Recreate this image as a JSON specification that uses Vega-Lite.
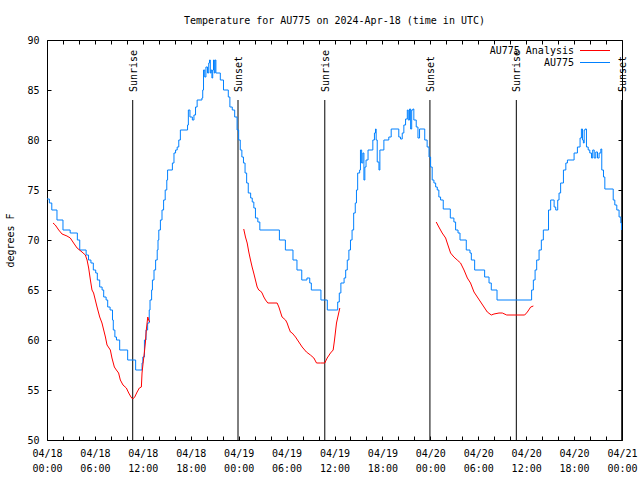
{
  "$schema": "https://vega.github.io/schema/vega-lite/v6.json",
  "width": 575,
  "height": 400,
  "autosize": "none",
  "padding": {"left": 47, "top": 40, "right": 18, "bottom": 40},
  "background": "white",
  "config": {
    "font": "DejaVu Sans Mono",
    "view": {"stroke": "black", "strokeWidth": 1},
    "axis": {"grid": false, "domain": false, "labelFont": "DejaVu Sans Mono", "labelFontSize": 10, "labelColor": "black", "tickColor": "black", "tickSize": -4, "titleFont": "DejaVu Sans Mono", "titleFontSize": 10, "titleFontWeight": "normal", "titleColor": "black"}
  },
  "title": {"text": "Temperature for AU775 on 2024-Apr-18 (time in UTC)", "font": "DejaVu Sans Mono", "fontSize": 10, "fontWeight": "normal", "color": "black", "anchor": "middle", "offset": 9},
  "datasets": {
    "sun": [
      {"t": "2024-04-18T10:44Z", "label": "Sunrise"},
      {"t": "2024-04-18T23:55Z", "label": "Sunset"},
      {"t": "2024-04-19T10:47Z", "label": "Sunrise"},
      {"t": "2024-04-19T23:57Z", "label": "Sunset"},
      {"t": "2024-04-20T10:46Z", "label": "Sunrise"},
      {"t": "2024-04-20T23:58Z", "label": "Sunset"}
    ],
    "temps": [
      {"t": "2024-04-18T00:00Z", "v": 74.1, "s": "AU775", "g": "b"},
      {"t": "2024-04-18T00:18Z", "v": 73.7, "s": "AU775", "g": "b"},
      {"t": "2024-04-18T00:36Z", "v": 73.0, "s": "AU775", "g": "b"},
      {"t": "2024-04-18T01:15Z", "v": 72.0, "s": "AU775", "g": "b"},
      {"t": "2024-04-18T02:00Z", "v": 71.0, "s": "AU775", "g": "b"},
      {"t": "2024-04-18T02:54Z", "v": 70.7, "s": "AU775", "g": "b"},
      {"t": "2024-04-18T03:48Z", "v": 70.0, "s": "AU775", "g": "b"},
      {"t": "2024-04-18T04:06Z", "v": 69.0, "s": "AU775", "g": "b"},
      {"t": "2024-04-18T04:54Z", "v": 68.5, "s": "AU775", "g": "b"},
      {"t": "2024-04-18T05:12Z", "v": 68.0, "s": "AU775", "g": "b"},
      {"t": "2024-04-18T05:30Z", "v": 67.7, "s": "AU775", "g": "b"},
      {"t": "2024-04-18T05:48Z", "v": 67.0, "s": "AU775", "g": "b"},
      {"t": "2024-04-18T06:06Z", "v": 66.7, "s": "AU775", "g": "b"},
      {"t": "2024-04-18T06:18Z", "v": 66.0, "s": "AU775", "g": "b"},
      {"t": "2024-04-18T06:36Z", "v": 65.3, "s": "AU775", "g": "b"},
      {"t": "2024-04-18T06:54Z", "v": 65.0, "s": "AU775", "g": "b"},
      {"t": "2024-04-18T07:06Z", "v": 64.3, "s": "AU775", "g": "b"},
      {"t": "2024-04-18T07:24Z", "v": 64.0, "s": "AU775", "g": "b"},
      {"t": "2024-04-18T07:36Z", "v": 63.3, "s": "AU775", "g": "b"},
      {"t": "2024-04-18T07:54Z", "v": 63.0, "s": "AU775", "g": "b"},
      {"t": "2024-04-18T08:12Z", "v": 62.0, "s": "AU775", "g": "b"},
      {"t": "2024-04-18T08:18Z", "v": 61.0, "s": "AU775", "g": "b"},
      {"t": "2024-04-18T08:30Z", "v": 60.3, "s": "AU775", "g": "b"},
      {"t": "2024-04-18T08:42Z", "v": 60.0, "s": "AU775", "g": "b"},
      {"t": "2024-04-18T09:06Z", "v": 59.0, "s": "AU775", "g": "b"},
      {"t": "2024-04-18T10:06Z", "v": 58.0, "s": "AU775", "g": "b"},
      {"t": "2024-04-18T11:06Z", "v": 57.0, "s": "AU775", "g": "b"},
      {"t": "2024-04-18T11:54Z", "v": 57.7, "s": "AU775", "g": "b"},
      {"t": "2024-04-18T12:00Z", "v": 58.3, "s": "AU775", "g": "b"},
      {"t": "2024-04-18T12:12Z", "v": 60.0, "s": "AU775", "g": "b"},
      {"t": "2024-04-18T12:24Z", "v": 61.0, "s": "AU775", "g": "b"},
      {"t": "2024-04-18T12:36Z", "v": 61.7, "s": "AU775", "g": "b"},
      {"t": "2024-04-18T12:48Z", "v": 63.0, "s": "AU775", "g": "b"},
      {"t": "2024-04-18T12:54Z", "v": 64.0, "s": "AU775", "g": "b"},
      {"t": "2024-04-18T13:06Z", "v": 65.0, "s": "AU775", "g": "b"},
      {"t": "2024-04-18T13:12Z", "v": 66.0, "s": "AU775", "g": "b"},
      {"t": "2024-04-18T13:24Z", "v": 67.0, "s": "AU775", "g": "b"},
      {"t": "2024-04-18T13:36Z", "v": 68.0, "s": "AU775", "g": "b"},
      {"t": "2024-04-18T13:48Z", "v": 69.0, "s": "AU775", "g": "b"},
      {"t": "2024-04-18T13:54Z", "v": 70.0, "s": "AU775", "g": "b"},
      {"t": "2024-04-18T14:00Z", "v": 71.0, "s": "AU775", "g": "b"},
      {"t": "2024-04-18T14:12Z", "v": 72.0, "s": "AU775", "g": "b"},
      {"t": "2024-04-18T14:24Z", "v": 73.0, "s": "AU775", "g": "b"},
      {"t": "2024-04-18T14:36Z", "v": 74.0, "s": "AU775", "g": "b"},
      {"t": "2024-04-18T14:48Z", "v": 75.0, "s": "AU775", "g": "b"},
      {"t": "2024-04-18T15:00Z", "v": 76.0, "s": "AU775", "g": "b"},
      {"t": "2024-04-18T15:06Z", "v": 77.0, "s": "AU775", "g": "b"},
      {"t": "2024-04-18T15:42Z", "v": 77.7, "s": "AU775", "g": "b"},
      {"t": "2024-04-18T15:54Z", "v": 78.7, "s": "AU775", "g": "b"},
      {"t": "2024-04-18T16:06Z", "v": 79.0, "s": "AU775", "g": "b"},
      {"t": "2024-04-18T16:18Z", "v": 79.3, "s": "AU775", "g": "b"},
      {"t": "2024-04-18T16:30Z", "v": 80.0, "s": "AU775", "g": "b"},
      {"t": "2024-04-18T16:42Z", "v": 81.0, "s": "AU775", "g": "b"},
      {"t": "2024-04-18T17:36Z", "v": 81.5, "s": "AU775", "g": "b"},
      {"t": "2024-04-18T17:42Z", "v": 83.0, "s": "AU775", "g": "b"},
      {"t": "2024-04-18T17:54Z", "v": 82.3, "s": "AU775", "g": "b"},
      {"t": "2024-04-18T18:12Z", "v": 82.0, "s": "AU775", "g": "b"},
      {"t": "2024-04-18T18:24Z", "v": 82.5, "s": "AU775", "g": "b"},
      {"t": "2024-04-18T18:36Z", "v": 83.3, "s": "AU775", "g": "b"},
      {"t": "2024-04-18T18:48Z", "v": 84.0, "s": "AU775", "g": "b"},
      {"t": "2024-04-18T19:24Z", "v": 84.2, "s": "AU775", "g": "b"},
      {"t": "2024-04-18T19:30Z", "v": 85.0, "s": "AU775", "g": "b"},
      {"t": "2024-04-18T19:36Z", "v": 87.0, "s": "AU775", "g": "b"},
      {"t": "2024-04-18T19:45Z", "v": 86.3, "s": "AU775", "g": "b"},
      {"t": "2024-04-18T19:54Z", "v": 87.3, "s": "AU775", "g": "b"},
      {"t": "2024-04-18T20:06Z", "v": 86.7, "s": "AU775", "g": "b"},
      {"t": "2024-04-18T20:15Z", "v": 87.7, "s": "AU775", "g": "b"},
      {"t": "2024-04-18T20:21Z", "v": 88.0, "s": "AU775", "g": "b"},
      {"t": "2024-04-18T20:27Z", "v": 86.7, "s": "AU775", "g": "b"},
      {"t": "2024-04-18T20:33Z", "v": 87.0, "s": "AU775", "g": "b"},
      {"t": "2024-04-18T20:39Z", "v": 86.2, "s": "AU775", "g": "b"},
      {"t": "2024-04-18T20:45Z", "v": 87.0, "s": "AU775", "g": "b"},
      {"t": "2024-04-18T20:51Z", "v": 88.0, "s": "AU775", "g": "b"},
      {"t": "2024-04-18T20:57Z", "v": 86.7, "s": "AU775", "g": "b"},
      {"t": "2024-04-18T21:03Z", "v": 88.0, "s": "AU775", "g": "b"},
      {"t": "2024-04-18T21:09Z", "v": 86.7, "s": "AU775", "g": "b"},
      {"t": "2024-04-18T21:42Z", "v": 86.0, "s": "AU775", "g": "b"},
      {"t": "2024-04-18T22:06Z", "v": 85.0, "s": "AU775", "g": "b"},
      {"t": "2024-04-18T22:42Z", "v": 84.3, "s": "AU775", "g": "b"},
      {"t": "2024-04-18T22:54Z", "v": 83.3, "s": "AU775", "g": "b"},
      {"t": "2024-04-18T23:12Z", "v": 83.0, "s": "AU775", "g": "b"},
      {"t": "2024-04-18T23:30Z", "v": 82.3, "s": "AU775", "g": "b"},
      {"t": "2024-04-18T23:48Z", "v": 81.0, "s": "AU775", "g": "b"},
      {"t": "2024-04-19T00:00Z", "v": 80.0, "s": "AU775", "g": "b"},
      {"t": "2024-04-19T00:12Z", "v": 79.0, "s": "AU775", "g": "b"},
      {"t": "2024-04-19T00:24Z", "v": 78.3, "s": "AU775", "g": "b"},
      {"t": "2024-04-19T00:36Z", "v": 77.7, "s": "AU775", "g": "b"},
      {"t": "2024-04-19T00:48Z", "v": 76.7, "s": "AU775", "g": "b"},
      {"t": "2024-04-19T01:00Z", "v": 75.7, "s": "AU775", "g": "b"},
      {"t": "2024-04-19T01:12Z", "v": 74.7, "s": "AU775", "g": "b"},
      {"t": "2024-04-19T01:30Z", "v": 74.2, "s": "AU775", "g": "b"},
      {"t": "2024-04-19T01:42Z", "v": 73.8, "s": "AU775", "g": "b"},
      {"t": "2024-04-19T01:54Z", "v": 73.2, "s": "AU775", "g": "b"},
      {"t": "2024-04-19T02:06Z", "v": 72.2, "s": "AU775", "g": "b"},
      {"t": "2024-04-19T02:24Z", "v": 71.8, "s": "AU775", "g": "b"},
      {"t": "2024-04-19T02:39Z", "v": 71.0, "s": "AU775", "g": "b"},
      {"t": "2024-04-19T05:06Z", "v": 70.0, "s": "AU775", "g": "b"},
      {"t": "2024-04-19T05:51Z", "v": 69.0, "s": "AU775", "g": "b"},
      {"t": "2024-04-19T06:48Z", "v": 68.0, "s": "AU775", "g": "b"},
      {"t": "2024-04-19T07:18Z", "v": 67.0, "s": "AU775", "g": "b"},
      {"t": "2024-04-19T07:54Z", "v": 66.0, "s": "AU775", "g": "b"},
      {"t": "2024-04-19T08:33Z", "v": 66.2, "s": "AU775", "g": "b"},
      {"t": "2024-04-19T08:54Z", "v": 65.7, "s": "AU775", "g": "b"},
      {"t": "2024-04-19T09:06Z", "v": 65.0, "s": "AU775", "g": "b"},
      {"t": "2024-04-19T10:18Z", "v": 64.0, "s": "AU775", "g": "b"},
      {"t": "2024-04-19T11:06Z", "v": 63.0, "s": "AU775", "g": "b"},
      {"t": "2024-04-19T12:24Z", "v": 63.8, "s": "AU775", "g": "b"},
      {"t": "2024-04-19T12:36Z", "v": 64.7, "s": "AU775", "g": "b"},
      {"t": "2024-04-19T12:48Z", "v": 65.7, "s": "AU775", "g": "b"},
      {"t": "2024-04-19T13:12Z", "v": 66.2, "s": "AU775", "g": "b"},
      {"t": "2024-04-19T13:24Z", "v": 67.0, "s": "AU775", "g": "b"},
      {"t": "2024-04-19T13:36Z", "v": 68.0, "s": "AU775", "g": "b"},
      {"t": "2024-04-19T13:48Z", "v": 69.0, "s": "AU775", "g": "b"},
      {"t": "2024-04-19T14:00Z", "v": 70.0, "s": "AU775", "g": "b"},
      {"t": "2024-04-19T14:12Z", "v": 71.0, "s": "AU775", "g": "b"},
      {"t": "2024-04-19T14:24Z", "v": 72.7, "s": "AU775", "g": "b"},
      {"t": "2024-04-19T14:36Z", "v": 73.7, "s": "AU775", "g": "b"},
      {"t": "2024-04-19T14:45Z", "v": 75.0, "s": "AU775", "g": "b"},
      {"t": "2024-04-19T14:54Z", "v": 76.7, "s": "AU775", "g": "b"},
      {"t": "2024-04-19T15:09Z", "v": 77.0, "s": "AU775", "g": "b"},
      {"t": "2024-04-19T15:15Z", "v": 79.0, "s": "AU775", "g": "b"},
      {"t": "2024-04-19T15:24Z", "v": 77.7, "s": "AU775", "g": "b"},
      {"t": "2024-04-19T15:33Z", "v": 78.7, "s": "AU775", "g": "b"},
      {"t": "2024-04-19T15:41Z", "v": 76.0, "s": "AU775", "g": "b"},
      {"t": "2024-04-19T15:48Z", "v": 77.3, "s": "AU775", "g": "b"},
      {"t": "2024-04-19T15:57Z", "v": 78.0, "s": "AU775", "g": "b"},
      {"t": "2024-04-19T16:12Z", "v": 79.0, "s": "AU775", "g": "b"},
      {"t": "2024-04-19T16:48Z", "v": 80.0, "s": "AU775", "g": "b"},
      {"t": "2024-04-19T17:00Z", "v": 80.7, "s": "AU775", "g": "b"},
      {"t": "2024-04-19T17:08Z", "v": 81.1, "s": "AU775", "g": "b"},
      {"t": "2024-04-19T17:13Z", "v": 80.0, "s": "AU775", "g": "b"},
      {"t": "2024-04-19T17:21Z", "v": 77.8, "s": "AU775", "g": "b"},
      {"t": "2024-04-19T17:34Z", "v": 77.0, "s": "AU775", "g": "b"},
      {"t": "2024-04-19T17:41Z", "v": 79.0, "s": "AU775", "g": "b"},
      {"t": "2024-04-19T18:11Z", "v": 80.0, "s": "AU775", "g": "b"},
      {"t": "2024-04-19T18:48Z", "v": 80.3, "s": "AU775", "g": "b"},
      {"t": "2024-04-19T19:06Z", "v": 81.1, "s": "AU775", "g": "b"},
      {"t": "2024-04-19T20:03Z", "v": 80.3, "s": "AU775", "g": "b"},
      {"t": "2024-04-19T20:16Z", "v": 80.1, "s": "AU775", "g": "b"},
      {"t": "2024-04-19T20:29Z", "v": 80.7, "s": "AU775", "g": "b"},
      {"t": "2024-04-19T20:41Z", "v": 81.5, "s": "AU775", "g": "b"},
      {"t": "2024-04-19T20:54Z", "v": 82.1, "s": "AU775", "g": "b"},
      {"t": "2024-04-19T21:07Z", "v": 83.0, "s": "AU775", "g": "b"},
      {"t": "2024-04-19T21:14Z", "v": 82.0, "s": "AU775", "g": "b"},
      {"t": "2024-04-19T21:24Z", "v": 83.1, "s": "AU775", "g": "b"},
      {"t": "2024-04-19T21:32Z", "v": 81.1, "s": "AU775", "g": "b"},
      {"t": "2024-04-19T21:40Z", "v": 83.0, "s": "AU775", "g": "b"},
      {"t": "2024-04-19T21:49Z", "v": 83.1, "s": "AU775", "g": "b"},
      {"t": "2024-04-19T21:56Z", "v": 82.0, "s": "AU775", "g": "b"},
      {"t": "2024-04-19T22:14Z", "v": 81.3, "s": "AU775", "g": "b"},
      {"t": "2024-04-19T22:27Z", "v": 80.2, "s": "AU775", "g": "b"},
      {"t": "2024-04-19T22:39Z", "v": 81.1, "s": "AU775", "g": "b"},
      {"t": "2024-04-19T23:18Z", "v": 80.0, "s": "AU775", "g": "b"},
      {"t": "2024-04-19T23:36Z", "v": 79.3, "s": "AU775", "g": "b"},
      {"t": "2024-04-19T23:50Z", "v": 78.3, "s": "AU775", "g": "b"},
      {"t": "2024-04-20T00:02Z", "v": 77.3, "s": "AU775", "g": "b"},
      {"t": "2024-04-20T00:14Z", "v": 76.0, "s": "AU775", "g": "b"},
      {"t": "2024-04-20T00:27Z", "v": 75.7, "s": "AU775", "g": "b"},
      {"t": "2024-04-20T00:40Z", "v": 75.3, "s": "AU775", "g": "b"},
      {"t": "2024-04-20T00:52Z", "v": 75.0, "s": "AU775", "g": "b"},
      {"t": "2024-04-20T01:04Z", "v": 74.3, "s": "AU775", "g": "b"},
      {"t": "2024-04-20T01:17Z", "v": 74.0, "s": "AU775", "g": "b"},
      {"t": "2024-04-20T01:37Z", "v": 73.1, "s": "AU775", "g": "b"},
      {"t": "2024-04-20T02:30Z", "v": 72.2, "s": "AU775", "g": "b"},
      {"t": "2024-04-20T02:57Z", "v": 71.8, "s": "AU775", "g": "b"},
      {"t": "2024-04-20T03:10Z", "v": 71.0, "s": "AU775", "g": "b"},
      {"t": "2024-04-20T03:28Z", "v": 70.7, "s": "AU775", "g": "b"},
      {"t": "2024-04-20T03:43Z", "v": 70.0, "s": "AU775", "g": "b"},
      {"t": "2024-04-20T04:30Z", "v": 69.0, "s": "AU775", "g": "b"},
      {"t": "2024-04-20T04:58Z", "v": 68.7, "s": "AU775", "g": "b"},
      {"t": "2024-04-20T05:08Z", "v": 68.0, "s": "AU775", "g": "b"},
      {"t": "2024-04-20T05:33Z", "v": 67.0, "s": "AU775", "g": "b"},
      {"t": "2024-04-20T06:48Z", "v": 66.3, "s": "AU775", "g": "b"},
      {"t": "2024-04-20T07:21Z", "v": 65.7, "s": "AU775", "g": "b"},
      {"t": "2024-04-20T07:38Z", "v": 65.0, "s": "AU775", "g": "b"},
      {"t": "2024-04-20T08:21Z", "v": 64.0, "s": "AU775", "g": "b"},
      {"t": "2024-04-20T12:41Z", "v": 65.0, "s": "AU775", "g": "b"},
      {"t": "2024-04-20T12:54Z", "v": 66.0, "s": "AU775", "g": "b"},
      {"t": "2024-04-20T13:07Z", "v": 67.0, "s": "AU775", "g": "b"},
      {"t": "2024-04-20T13:19Z", "v": 68.0, "s": "AU775", "g": "b"},
      {"t": "2024-04-20T13:37Z", "v": 69.0, "s": "AU775", "g": "b"},
      {"t": "2024-04-20T13:54Z", "v": 70.0, "s": "AU775", "g": "b"},
      {"t": "2024-04-20T14:09Z", "v": 71.0, "s": "AU775", "g": "b"},
      {"t": "2024-04-20T14:48Z", "v": 73.0, "s": "AU775", "g": "b"},
      {"t": "2024-04-20T15:04Z", "v": 74.0, "s": "AU775", "g": "b"},
      {"t": "2024-04-20T15:30Z", "v": 73.3, "s": "AU775", "g": "b"},
      {"t": "2024-04-20T15:42Z", "v": 73.0, "s": "AU775", "g": "b"},
      {"t": "2024-04-20T15:57Z", "v": 74.0, "s": "AU775", "g": "b"},
      {"t": "2024-04-20T16:07Z", "v": 74.7, "s": "AU775", "g": "b"},
      {"t": "2024-04-20T16:19Z", "v": 75.7, "s": "AU775", "g": "b"},
      {"t": "2024-04-20T16:40Z", "v": 77.0, "s": "AU775", "g": "b"},
      {"t": "2024-04-20T16:58Z", "v": 77.7, "s": "AU775", "g": "b"},
      {"t": "2024-04-20T17:10Z", "v": 78.0, "s": "AU775", "g": "b"},
      {"t": "2024-04-20T18:00Z", "v": 78.7, "s": "AU775", "g": "b"},
      {"t": "2024-04-20T18:25Z", "v": 79.3, "s": "AU775", "g": "b"},
      {"t": "2024-04-20T18:45Z", "v": 80.2, "s": "AU775", "g": "b"},
      {"t": "2024-04-20T18:55Z", "v": 81.1, "s": "AU775", "g": "b"},
      {"t": "2024-04-20T19:03Z", "v": 80.0, "s": "AU775", "g": "b"},
      {"t": "2024-04-20T19:10Z", "v": 79.7, "s": "AU775", "g": "b"},
      {"t": "2024-04-20T19:16Z", "v": 81.0, "s": "AU775", "g": "b"},
      {"t": "2024-04-20T19:23Z", "v": 81.1, "s": "AU775", "g": "b"},
      {"t": "2024-04-20T19:33Z", "v": 79.3, "s": "AU775", "g": "b"},
      {"t": "2024-04-20T19:46Z", "v": 79.0, "s": "AU775", "g": "b"},
      {"t": "2024-04-20T19:58Z", "v": 78.7, "s": "AU775", "g": "b"},
      {"t": "2024-04-20T20:11Z", "v": 78.2, "s": "AU775", "g": "b"},
      {"t": "2024-04-20T20:20Z", "v": 79.0, "s": "AU775", "g": "b"},
      {"t": "2024-04-20T20:31Z", "v": 78.2, "s": "AU775", "g": "b"},
      {"t": "2024-04-20T20:43Z", "v": 78.8, "s": "AU775", "g": "b"},
      {"t": "2024-04-20T20:56Z", "v": 78.2, "s": "AU775", "g": "b"},
      {"t": "2024-04-20T21:08Z", "v": 78.7, "s": "AU775", "g": "b"},
      {"t": "2024-04-20T21:21Z", "v": 79.1, "s": "AU775", "g": "b"},
      {"t": "2024-04-20T21:28Z", "v": 77.0, "s": "AU775", "g": "b"},
      {"t": "2024-04-20T21:41Z", "v": 76.3, "s": "AU775", "g": "b"},
      {"t": "2024-04-20T21:51Z", "v": 75.1, "s": "AU775", "g": "b"},
      {"t": "2024-04-20T22:54Z", "v": 74.0, "s": "AU775", "g": "b"},
      {"t": "2024-04-20T23:06Z", "v": 73.5, "s": "AU775", "g": "b"},
      {"t": "2024-04-20T23:21Z", "v": 73.0, "s": "AU775", "g": "b"},
      {"t": "2024-04-20T23:38Z", "v": 72.3, "s": "AU775", "g": "b"},
      {"t": "2024-04-20T23:51Z", "v": 71.7, "s": "AU775", "g": "b"},
      {"t": "2024-04-20T23:56Z", "v": 71.0, "s": "AU775", "g": "b"},

      {"t": "2024-04-18T00:45Z", "v": 71.7, "s": "AU775 Analysis", "g": "a1"},
      {"t": "2024-04-18T01:02Z", "v": 71.5, "s": "AU775 Analysis", "g": "a1"},
      {"t": "2024-04-18T01:28Z", "v": 71.0, "s": "AU775 Analysis", "g": "a1"},
      {"t": "2024-04-18T01:53Z", "v": 70.6, "s": "AU775 Analysis", "g": "a1"},
      {"t": "2024-04-18T02:30Z", "v": 70.4, "s": "AU775 Analysis", "g": "a1"},
      {"t": "2024-04-18T02:55Z", "v": 70.2, "s": "AU775 Analysis", "g": "a1"},
      {"t": "2024-04-18T03:20Z", "v": 69.7, "s": "AU775 Analysis", "g": "a1"},
      {"t": "2024-04-18T03:46Z", "v": 69.2, "s": "AU775 Analysis", "g": "a1"},
      {"t": "2024-04-18T04:23Z", "v": 68.8, "s": "AU775 Analysis", "g": "a1"},
      {"t": "2024-04-18T04:48Z", "v": 68.5, "s": "AU775 Analysis", "g": "a1"},
      {"t": "2024-04-18T05:01Z", "v": 68.0, "s": "AU775 Analysis", "g": "a1"},
      {"t": "2024-04-18T05:13Z", "v": 67.2, "s": "AU775 Analysis", "g": "a1"},
      {"t": "2024-04-18T05:26Z", "v": 66.0, "s": "AU775 Analysis", "g": "a1"},
      {"t": "2024-04-18T05:38Z", "v": 65.0, "s": "AU775 Analysis", "g": "a1"},
      {"t": "2024-04-18T05:50Z", "v": 64.7, "s": "AU775 Analysis", "g": "a1"},
      {"t": "2024-04-18T06:03Z", "v": 64.0, "s": "AU775 Analysis", "g": "a1"},
      {"t": "2024-04-18T06:16Z", "v": 63.3, "s": "AU775 Analysis", "g": "a1"},
      {"t": "2024-04-18T06:36Z", "v": 62.3, "s": "AU775 Analysis", "g": "a1"},
      {"t": "2024-04-18T06:53Z", "v": 61.7, "s": "AU775 Analysis", "g": "a1"},
      {"t": "2024-04-18T07:06Z", "v": 61.0, "s": "AU775 Analysis", "g": "a1"},
      {"t": "2024-04-18T07:19Z", "v": 60.3, "s": "AU775 Analysis", "g": "a1"},
      {"t": "2024-04-18T07:31Z", "v": 59.5, "s": "AU775 Analysis", "g": "a1"},
      {"t": "2024-04-18T07:56Z", "v": 59.0, "s": "AU775 Analysis", "g": "a1"},
      {"t": "2024-04-18T08:08Z", "v": 58.2, "s": "AU775 Analysis", "g": "a1"},
      {"t": "2024-04-18T08:26Z", "v": 57.3, "s": "AU775 Analysis", "g": "a1"},
      {"t": "2024-04-18T08:41Z", "v": 57.0, "s": "AU775 Analysis", "g": "a1"},
      {"t": "2024-04-18T08:58Z", "v": 56.7, "s": "AU775 Analysis", "g": "a1"},
      {"t": "2024-04-18T09:11Z", "v": 56.0, "s": "AU775 Analysis", "g": "a1"},
      {"t": "2024-04-18T09:31Z", "v": 55.5, "s": "AU775 Analysis", "g": "a1"},
      {"t": "2024-04-18T09:56Z", "v": 55.2, "s": "AU775 Analysis", "g": "a1"},
      {"t": "2024-04-18T10:14Z", "v": 54.7, "s": "AU775 Analysis", "g": "a1"},
      {"t": "2024-04-18T10:31Z", "v": 54.3, "s": "AU775 Analysis", "g": "a1"},
      {"t": "2024-04-18T10:44Z", "v": 54.1, "s": "AU775 Analysis", "g": "a1"},
      {"t": "2024-04-18T10:59Z", "v": 54.3, "s": "AU775 Analysis", "g": "a1"},
      {"t": "2024-04-18T11:17Z", "v": 54.8, "s": "AU775 Analysis", "g": "a1"},
      {"t": "2024-04-18T11:34Z", "v": 55.2, "s": "AU775 Analysis", "g": "a1"},
      {"t": "2024-04-18T11:49Z", "v": 55.3, "s": "AU775 Analysis", "g": "a1"},
      {"t": "2024-04-18T11:54Z", "v": 56.7, "s": "AU775 Analysis", "g": "a1"},
      {"t": "2024-04-18T12:02Z", "v": 57.7, "s": "AU775 Analysis", "g": "a1"},
      {"t": "2024-04-18T12:11Z", "v": 58.7, "s": "AU775 Analysis", "g": "a1"},
      {"t": "2024-04-18T12:19Z", "v": 59.7, "s": "AU775 Analysis", "g": "a1"},
      {"t": "2024-04-18T12:26Z", "v": 61.0, "s": "AU775 Analysis", "g": "a1"},
      {"t": "2024-04-18T12:37Z", "v": 62.3, "s": "AU775 Analysis", "g": "a1"},
      {"t": "2024-04-18T12:44Z", "v": 62.0, "s": "AU775 Analysis", "g": "a1"},
      {"t": "2024-04-18T12:52Z", "v": 61.8, "s": "AU775 Analysis", "g": "a1"},

      {"t": "2024-04-19T00:38Z", "v": 71.1, "s": "AU775 Analysis", "g": "a2"},
      {"t": "2024-04-19T00:51Z", "v": 70.3, "s": "AU775 Analysis", "g": "a2"},
      {"t": "2024-04-19T01:04Z", "v": 69.7, "s": "AU775 Analysis", "g": "a2"},
      {"t": "2024-04-19T01:16Z", "v": 68.8, "s": "AU775 Analysis", "g": "a2"},
      {"t": "2024-04-19T01:29Z", "v": 68.0, "s": "AU775 Analysis", "g": "a2"},
      {"t": "2024-04-19T01:41Z", "v": 67.3, "s": "AU775 Analysis", "g": "a2"},
      {"t": "2024-04-19T01:53Z", "v": 66.7, "s": "AU775 Analysis", "g": "a2"},
      {"t": "2024-04-19T02:06Z", "v": 66.0, "s": "AU775 Analysis", "g": "a2"},
      {"t": "2024-04-19T02:19Z", "v": 65.3, "s": "AU775 Analysis", "g": "a2"},
      {"t": "2024-04-19T02:31Z", "v": 65.0, "s": "AU775 Analysis", "g": "a2"},
      {"t": "2024-04-19T02:44Z", "v": 64.9, "s": "AU775 Analysis", "g": "a2"},
      {"t": "2024-04-19T02:56Z", "v": 64.7, "s": "AU775 Analysis", "g": "a2"},
      {"t": "2024-04-19T03:09Z", "v": 64.3, "s": "AU775 Analysis", "g": "a2"},
      {"t": "2024-04-19T03:22Z", "v": 64.0, "s": "AU775 Analysis", "g": "a2"},
      {"t": "2024-04-19T03:39Z", "v": 63.7, "s": "AU775 Analysis", "g": "a2"},
      {"t": "2024-04-19T04:49Z", "v": 63.7, "s": "AU775 Analysis", "g": "a2"},
      {"t": "2024-04-19T05:02Z", "v": 63.3, "s": "AU775 Analysis", "g": "a2"},
      {"t": "2024-04-19T05:14Z", "v": 62.8, "s": "AU775 Analysis", "g": "a2"},
      {"t": "2024-04-19T05:26Z", "v": 62.3, "s": "AU775 Analysis", "g": "a2"},
      {"t": "2024-04-19T05:52Z", "v": 62.0, "s": "AU775 Analysis", "g": "a2"},
      {"t": "2024-04-19T06:04Z", "v": 61.7, "s": "AU775 Analysis", "g": "a2"},
      {"t": "2024-04-19T06:17Z", "v": 61.2, "s": "AU775 Analysis", "g": "a2"},
      {"t": "2024-04-19T06:29Z", "v": 60.8, "s": "AU775 Analysis", "g": "a2"},
      {"t": "2024-04-19T06:42Z", "v": 60.7, "s": "AU775 Analysis", "g": "a2"},
      {"t": "2024-04-19T07:07Z", "v": 60.3, "s": "AU775 Analysis", "g": "a2"},
      {"t": "2024-04-19T07:32Z", "v": 59.8, "s": "AU775 Analysis", "g": "a2"},
      {"t": "2024-04-19T07:57Z", "v": 59.3, "s": "AU775 Analysis", "g": "a2"},
      {"t": "2024-04-19T08:29Z", "v": 58.8, "s": "AU775 Analysis", "g": "a2"},
      {"t": "2024-04-19T08:59Z", "v": 58.5, "s": "AU775 Analysis", "g": "a2"},
      {"t": "2024-04-19T09:25Z", "v": 58.2, "s": "AU775 Analysis", "g": "a2"},
      {"t": "2024-04-19T09:45Z", "v": 57.7, "s": "AU775 Analysis", "g": "a2"},
      {"t": "2024-04-19T10:15Z", "v": 57.7, "s": "AU775 Analysis", "g": "a2"},
      {"t": "2024-04-19T10:47Z", "v": 57.7, "s": "AU775 Analysis", "g": "a2"},
      {"t": "2024-04-19T11:05Z", "v": 58.2, "s": "AU775 Analysis", "g": "a2"},
      {"t": "2024-04-19T11:30Z", "v": 58.7, "s": "AU775 Analysis", "g": "a2"},
      {"t": "2024-04-19T11:50Z", "v": 59.0, "s": "AU775 Analysis", "g": "a2"},
      {"t": "2024-04-19T12:00Z", "v": 60.0, "s": "AU775 Analysis", "g": "a2"},
      {"t": "2024-04-19T12:15Z", "v": 61.7, "s": "AU775 Analysis", "g": "a2"},
      {"t": "2024-04-19T12:25Z", "v": 62.3, "s": "AU775 Analysis", "g": "a2"},
      {"t": "2024-04-19T12:40Z", "v": 63.2, "s": "AU775 Analysis", "g": "a2"},

      {"t": "2024-04-20T00:44Z", "v": 71.8, "s": "AU775 Analysis", "g": "a3"},
      {"t": "2024-04-20T01:04Z", "v": 71.3, "s": "AU775 Analysis", "g": "a3"},
      {"t": "2024-04-20T01:29Z", "v": 70.7, "s": "AU775 Analysis", "g": "a3"},
      {"t": "2024-04-20T01:55Z", "v": 70.2, "s": "AU775 Analysis", "g": "a3"},
      {"t": "2024-04-20T02:07Z", "v": 69.7, "s": "AU775 Analysis", "g": "a3"},
      {"t": "2024-04-20T02:32Z", "v": 68.7, "s": "AU775 Analysis", "g": "a3"},
      {"t": "2024-04-20T02:57Z", "v": 68.3, "s": "AU775 Analysis", "g": "a3"},
      {"t": "2024-04-20T03:22Z", "v": 68.0, "s": "AU775 Analysis", "g": "a3"},
      {"t": "2024-04-20T03:47Z", "v": 67.7, "s": "AU775 Analysis", "g": "a3"},
      {"t": "2024-04-20T04:13Z", "v": 67.0, "s": "AU775 Analysis", "g": "a3"},
      {"t": "2024-04-20T04:38Z", "v": 66.2, "s": "AU775 Analysis", "g": "a3"},
      {"t": "2024-04-20T05:02Z", "v": 65.7, "s": "AU775 Analysis", "g": "a3"},
      {"t": "2024-04-20T05:28Z", "v": 64.8, "s": "AU775 Analysis", "g": "a3"},
      {"t": "2024-04-20T05:53Z", "v": 64.3, "s": "AU775 Analysis", "g": "a3"},
      {"t": "2024-04-20T06:18Z", "v": 63.8, "s": "AU775 Analysis", "g": "a3"},
      {"t": "2024-04-20T06:43Z", "v": 63.3, "s": "AU775 Analysis", "g": "a3"},
      {"t": "2024-04-20T07:08Z", "v": 62.8, "s": "AU775 Analysis", "g": "a3"},
      {"t": "2024-04-20T07:38Z", "v": 62.5, "s": "AU775 Analysis", "g": "a3"},
      {"t": "2024-04-20T07:58Z", "v": 62.6, "s": "AU775 Analysis", "g": "a3"},
      {"t": "2024-04-20T08:36Z", "v": 62.7, "s": "AU775 Analysis", "g": "a3"},
      {"t": "2024-04-20T09:01Z", "v": 62.7, "s": "AU775 Analysis", "g": "a3"},
      {"t": "2024-04-20T09:34Z", "v": 62.5, "s": "AU775 Analysis", "g": "a3"},
      {"t": "2024-04-20T11:49Z", "v": 62.5, "s": "AU775 Analysis", "g": "a3"},
      {"t": "2024-04-20T12:09Z", "v": 62.8, "s": "AU775 Analysis", "g": "a3"},
      {"t": "2024-04-20T12:34Z", "v": 63.3, "s": "AU775 Analysis", "g": "a3"},
      {"t": "2024-04-20T12:54Z", "v": 63.4, "s": "AU775 Analysis", "g": "a3"}
    ]
  },
  "layer": [
    {
      "data": {"name": "sun"},
      "mark": {"type": "rule", "color": "black", "strokeWidth": 1},
      "encoding": {
        "x": {
          "field": "t", "type": "temporal",
          "scale": {"type": "utc", "domain": [1713398400000, 1713657600000]},
          "axis": {"orient": "bottom", "title": null, "values": [1713398400000, 1713405600000, 1713412800000, 1713420000000, 1713427200000, 1713434400000, 1713441600000, 1713448800000, 1713456000000, 1713463200000, 1713470400000, 1713477600000, 1713484800000, 1713492000000, 1713499200000, 1713506400000, 1713513600000, 1713520800000, 1713528000000, 1713535200000, 1713542400000, 1713549600000, 1713556800000, 1713564000000, 1713571200000, 1713578400000, 1713585600000, 1713592800000, 1713600000000, 1713607200000, 1713614400000, 1713621600000, 1713628800000, 1713636000000, 1713643200000, 1713650400000, 1713657600000], "labelExpr": "utchours(datum.value) % 6 == 0 ? [utcFormat(datum.value, '%m/%d'), utcFormat(datum.value, '%H:%M')] : ''", "labelPadding": 12, "labelLineHeight": 15, "labelOverlap": false, "labelFlush": false, "labelBound": false, "labelAlign": "center", "labelBaseline": "top"}
        },
        "y": {
          "datum": 50, "type": "quantitative",
          "scale": {"domain": [50, 90], "nice": false, "zero": false},
          "axis": {"orient": "left", "values": [50, 55, 60, 65, 70, 75, 80, 85, 90], "labelPadding": 12, "title": "degrees F", "titleX": -37, "titleY": 200, "titleAngle": 270, "titleAlign": "center", "titleBaseline": "middle"}
        },
        "y2": {"datum": 84}
      }
    },
    {
      "data": {"name": "temps"},
      "transform": [{"filter": "datum.s == 'AU775'"}],
      "mark": {"type": "line", "interpolate": "step-after", "strokeWidth": 1},
      "encoding": {
        "x": {"field": "t", "type": "temporal", "axis": {"orient": "top", "title": null, "labels": false, "values": [1713398400000, 1713405600000, 1713412800000, 1713420000000, 1713427200000, 1713434400000, 1713441600000, 1713448800000, 1713456000000, 1713463200000, 1713470400000, 1713477600000, 1713484800000, 1713492000000, 1713499200000, 1713506400000, 1713513600000, 1713520800000, 1713528000000, 1713535200000, 1713542400000, 1713549600000, 1713556800000, 1713564000000, 1713571200000, 1713578400000, 1713585600000, 1713592800000, 1713600000000, 1713607200000, 1713614400000, 1713621600000, 1713628800000, 1713636000000, 1713643200000, 1713650400000, 1713657600000]}},
        "y": {"field": "v", "type": "quantitative", "axis": {"orient": "right", "title": null, "labels": false, "values": [50, 55, 60, 65, 70, 75, 80, 85, 90]}},
        "color": {"field": "s", "type": "nominal", "scale": {"domain": ["AU775 Analysis", "AU775"], "range": ["#ff0000", "#0080ff"]}, "legend": {"orient": "none", "legendX": 542.5, "legendY": 5, "title": null, "symbolType": "M-3,0H3", "symbolSize": 100, "symbolStrokeWidth": 1, "labelAlign": "right", "labelOffset": -26.5, "labelFont": "DejaVu Sans Mono", "labelFontSize": 10, "labelColor": "black", "padding": 0, "rowPadding": 1}},
        "detail": {"field": "g", "type": "nominal"}
      }
    },
    {
      "data": {"name": "temps"},
      "transform": [{"filter": "datum.s == 'AU775 Analysis'"}],
      "mark": {"type": "line", "interpolate": "linear", "strokeWidth": 1},
      "encoding": {
        "x": {"field": "t", "type": "temporal", "axis": null},
        "y": {"field": "v", "type": "quantitative", "axis": null},
        "color": {"field": "s", "type": "nominal"},
        "detail": {"field": "g", "type": "nominal"}
      }
    },
    {
      "data": {"name": "sun"},
      "mark": {"type": "text", "angle": 270, "align": "left", "baseline": "middle", "font": "DejaVu Sans Mono", "fontSize": 10, "color": "black", "dy": 1},
      "encoding": {
        "x": {"field": "t", "type": "temporal", "axis": null},
        "y": {"datum": 84.8, "type": "quantitative", "axis": null},
        "text": {"field": "label", "type": "nominal"}
      }
    }
  ],
  "resolve": {"axis": {"x": "independent", "y": "independent"}}
}
